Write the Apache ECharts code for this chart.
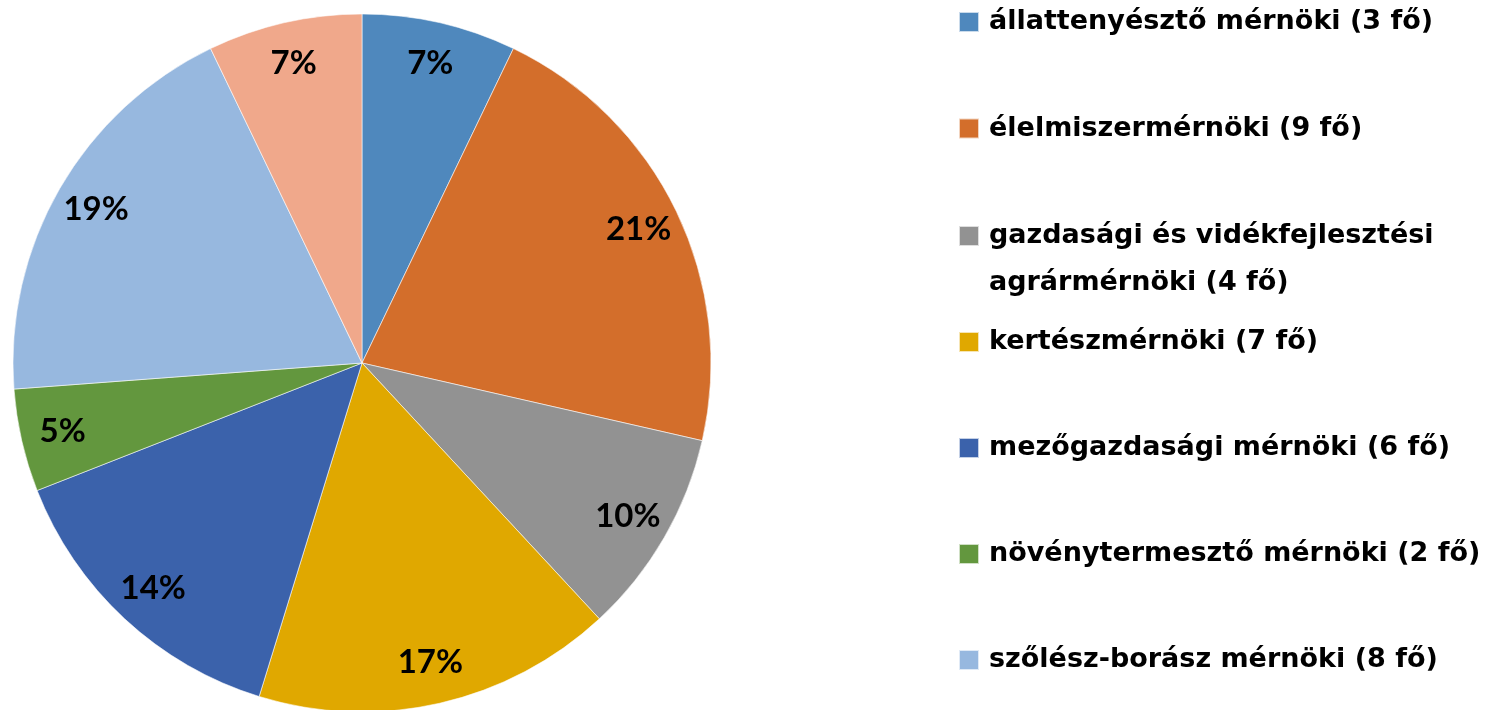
<!DOCTYPE html>
<html>
<head>
<meta charset="utf-8">
<script src="https://cdn.jsdelivr.net/npm/echarts@6/dist/echarts.min.js"></script>
<style>
  html, body { margin: 0; padding: 0; background: #fff; }
  #main { width: 1495px; height: 710px; }
</style>
</head>
<body>
<div id="main"></div>
<script>
// szakok es letszamok
const names = [
  'állattenyésztő mérnöki (3 fő)',
  'élelmiszermérnöki (9 fő)',
  'gazdasági és vidékfejlesztési agrármérnöki (4 fő)',
  'kertészmérnöki (7 fő)',
  'mezőgazdasági mérnöki (6 fő)',
  'növénytermesztő mérnöki (2 fő)',
  'szőlész-borász mérnöki (8 fő)',
  'vadgazda mérnöki (3 fő)'
]
const values = [3, 9, 4, 7, 6, 2, 8, 3]
const colors = ['#4f88bd', '#d36e2b', '#929292', '#e0a800', '#3b62ab', '#63973e', '#97b8df', '#f0a88b']

var myChart = echarts.init(document.getElementById('main'))

const pieData = names.map((n, i) => ({ name: n, value: values[i], itemStyle: { color: colors[i] } }))

// square icon, extra point widens the box so text starts further right
const iconA = 'path://M0 0H20V20H0Z M25 20'
const iconB = 'path://M0 0H20V20H0Z M25 67'

const legendText = { color: '#000', fontFamily: 'DejaVu Sans', fontWeight: 'bold', fontSize: 27, lineHeight: 20 }

var option = {
  animation: false,
  legend: [
    {
      orient: 'vertical', left: 958, top: 8.5, padding: 0,
      itemWidth: 25, itemHeight: 20, itemGap: 79.5, icon: iconA,
      data: names.slice(0, 2), textStyle: legendText, selectedMode: false
    },
    {
      orient: 'vertical', left: 958, top: 212.5, padding: 0,
      itemWidth: 25, itemHeight: 67, icon: iconB,
      data: names.slice(2, 3), selectedMode: false,
      formatter: n => 'gazdasági és vidékfejlesztési\nagrármérnöki (4 fő)',
      textStyle: Object.assign({}, legendText, { lineHeight: 47 })
    },
    {
      orient: 'vertical', left: 958, top: 328.5, padding: 0,
      itemWidth: 25, itemHeight: 20, itemGap: 79, icon: iconA,
      data: names.slice(3, 7), textStyle: legendText, selectedMode: false
    }
  ],
  series: [
    {
      type: 'pie',
      center: [362, 363],
      radius: 349,
      startAngle: 90,
      percentPrecision: 0,
      itemStyle: { borderColor: 'rgba(255,255,255,0.7)', borderWidth: 0.8 },
      label: { show: false },
      labelLine: { show: false },
      emphasis: { disabled: true },
      data: pieData
    },
    {
      // only for the percent labels
      type: 'pie',
      center: [362, 363],
      radius: [259, 349],
      startAngle: 90,
      percentPrecision: 0,
      silent: true,
      itemStyle: { color: 'rgba(0,0,0,0)' },
      label: {
        show: true, position: 'inside', formatter: '{d}%',
        color: '#000', fontFamily: 'Lato', fontWeight: 'bold', fontSize: 33
      },
      labelLine: { show: false },
      emphasis: { disabled: true },
      data: names.map((n, i) => ({ name: n, value: values[i] }))
    }
  ]
}

myChart.setOption(option)
</script>
</body>
</html>
